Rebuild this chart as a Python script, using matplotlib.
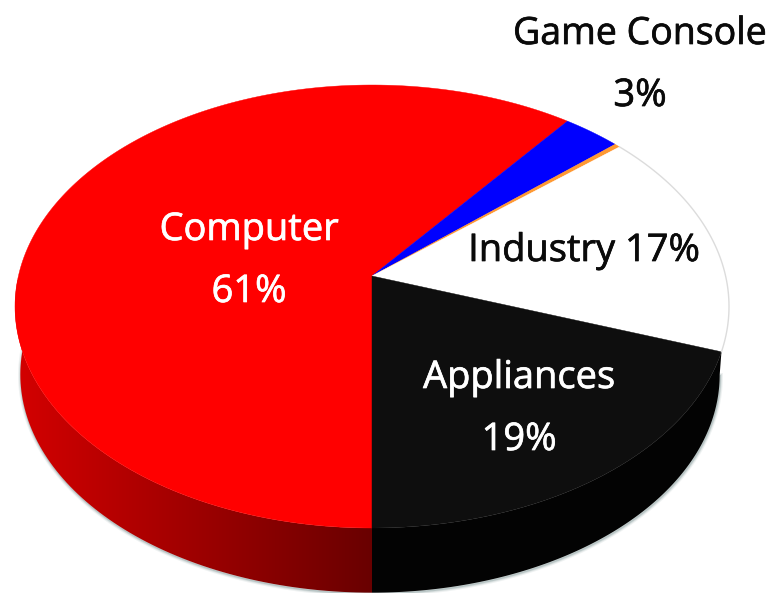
import numpy as np
import matplotlib
matplotlib.use('Agg')
import matplotlib.pyplot as plt
import matplotlib.patheffects as pe

plt.rcParams['font.family'] = ['Open Sans', 'DejaVu Sans']

# slices clockwise from six o'clock
shares = [60.5, 3, 0.3, 16.6, 19.6]
top_colors = ['#ff0000', '#0000ff', '#ff9933', '#ffffff', '#0e0e0e']
labels = [('Computer', 249, 230, 'white'), ('61%', 249, 292, 'white'),
          ('Game Console', 640, 34, '#0a0a0a'), ('3%', 640, 96, '#0a0a0a'),
          ('Industry 17%', 584, 251, '#0a0a0a'),
          ('Appliances', 519, 378, 'white'), ('19%', 519, 440, 'white')]

# perspective of the disc, in pixels
CX, CY = 372, 276
A, B, K = 353.6, 217.3, 0.1377
DEPTH, SHRINK = 68, 0.985


def project(bearing, drop=0.0, scale=1.0, pull=0.0):
    # bearing in degrees, clockwise from twelve o'clock
    t = np.radians(bearing)
    x = np.sin(t)
    y = np.cos(t)
    d = 1 + K * y
    px = CX - pull * np.clip(x, 0, None) + scale * A * x / d
    return px, CY - scale * B * y / d + drop + (1 - scale) * 30


def lower_rim(bearing):
    return project(bearing, drop=DEPTH, scale=SHRINK, pull=4)


def wedge(b0, b1):
    x, y = project(np.linspace(b0, b1, 200))
    return np.r_[CX, x], np.r_[CY, y]


def side(b0, b1, lower_b0=None):
    # lower rim may start earlier, so the side tapers out at the silhouette
    x0, y0 = project(np.linspace(b0, b1, 200))
    low = b0 if lower_b0 is None else lower_b0
    x1, y1 = lower_rim(np.linspace(low, b1, 200))
    return np.r_[x0, x1[::-1]], np.r_[y0, y1[::-1]]


fig = plt.figure(figsize=(7.73, 5.93), dpi=100)
ax = fig.add_axes([0, 0, 1, 1])
ax.set_xlim(0, 773)
ax.set_ylim(593, 0)
ax.axis('off')

edges = 180 + np.cumsum([0] + shares) * 3.6
red_end = edges[1]
spans = [(edges[i], edges[i + 1]) for i in range(len(shares))]
spans = [spans[0]] + [(b0 - 360, b1 - 360) for b0, b1 in spans[1:]]
appliance_start = spans[4][0]

# soft shadow round the lower rim
sx, sy = lower_rim(np.linspace(98, 275, 400))
for lw, a in [(4, 0.12), (2.5, 0.2), (1.2, 0.35)]:
    ax.plot(sx + 0.5, sy + 1, color='#7f9595', lw=lw, alpha=a, zorder=1)

# sides
px, py = side(180, red_end)
poly = ax.fill(px, py, color='none', zorder=2)[0]
grad = np.zeros((2, 256, 3))
grad[:, :, 0] = np.linspace(212, 105, 256)[None, :] / 255
im = ax.imshow(grad, extent=[15, 373, 593, 280], aspect='auto', zorder=2)
im.set_clip_path(poly)

px, py = side(appliance_start, 180, lower_b0=98)
ax.fill(px, py, color='#030303', lw=0, zorder=2)
ax.set_xlim(0, 773)
ax.set_ylim(593, 0)

# top face
for (b0, b1), c in zip(spans, top_colors):
    wx, wy = wedge(b0, b1)
    ax.fill(wx, wy, color=c, lw=0.3, zorder=3)

# grey rim on the white slice
rx, ry = project(np.linspace(spans[3][0], spans[3][1], 100))
ax.plot(rx, ry, color='#dcdcdc', lw=1, zorder=4)

for text, x, y, col in labels:
    size = 27 if text == 'Game Console' else 27.4
    ax.text(x, y, text, color=col, fontsize=size, ha='center', va='center', zorder=5,
            path_effects=[pe.withStroke(linewidth=0.5, foreground=col)])

fig.savefig('out.png', dpi=100)
